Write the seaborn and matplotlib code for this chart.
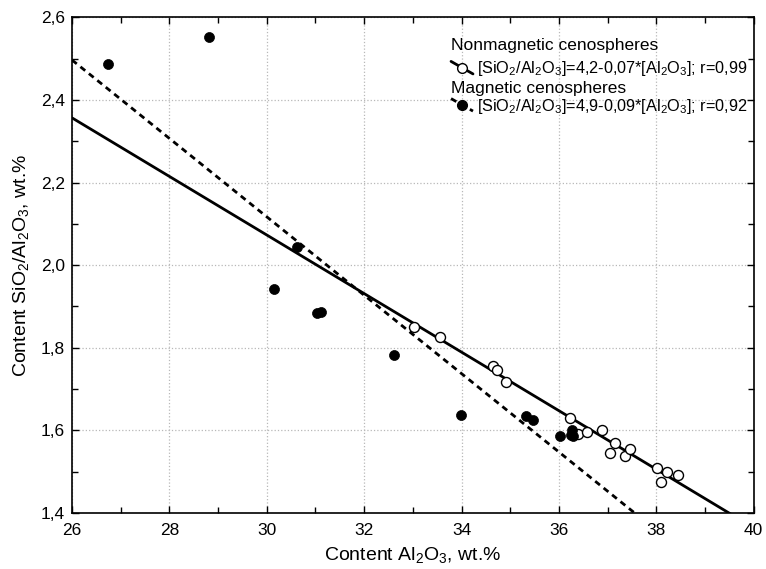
import numpy as np
import pandas as pd
import matplotlib
matplotlib.use("Agg")
import matplotlib.pyplot as plt
import seaborn as sns
from matplotlib.lines import Line2D
from matplotlib.legend_handler import HandlerLine2D

# ---- data ----
nonmag_al2o3 = [33.03, 33.56, 34.65, 34.72, 34.91, 36.23, 36.40, 36.58, 36.89,
                37.05, 37.16, 37.36, 37.46, 38.02, 38.10, 38.22, 38.44]
nonmag_ratio = [1.851, 1.826, 1.755, 1.745, 1.716, 1.631, 1.591, 1.595, 1.602,
                1.546, 1.570, 1.538, 1.554, 1.508, 1.475, 1.500, 1.491]
mag_al2o3 = [26.73, 28.81, 30.15, 30.63, 31.04, 31.11, 32.62, 33.98, 35.32,
             35.46, 36.03, 36.24, 36.27, 36.29]
mag_ratio = [2.486, 2.553, 1.943, 2.045, 1.884, 1.887, 1.782, 1.638, 1.636,
             1.625, 1.586, 1.588, 1.602, 1.587]
# fitted lines (intercept, slope) as drawn
nonmag_fit = (4.200, -0.0709)
mag_fit = (4.964, -0.0949)
nonmag_title = "Nonmagnetic cenospheres"
mag_title = "Magnetic cenospheres"
nonmag_label = r"[SiO$_2$/Al$_2$O$_3$]=4,2-0,07*[Al$_2$O$_3$]; r=0,99"
mag_label = r"[SiO$_2$/Al$_2$O$_3$]=4,9-0,09*[Al$_2$O$_3$]; r=0,92"
xticks = [26, 28, 30, 32, 34, 36, 38, 40]
yticks = [1.4, 1.6, 1.8, 2.0, 2.2, 2.4, 2.6]

sns.set_theme(style="ticks")
plt.rcParams['font.family'] = ['Liberation Sans', 'DejaVu Sans']
plt.rcParams['mathtext.fontset'] = 'custom'
plt.rcParams['mathtext.rm'] = 'Liberation Sans'
plt.rcParams['mathtext.it'] = 'Liberation Sans'
for k in ['text.color', 'axes.labelcolor', 'xtick.color', 'ytick.color']:
    plt.rcParams[k] = 'black'

fig = plt.figure(figsize=(7.66, 5.69), dpi=100)
ax = fig.add_axes([0.094, 0.0984, 0.890, 0.8712])

df_n = pd.DataFrame({"x": nonmag_al2o3, "y": nonmag_ratio})
df_m = pd.DataFrame({"x": mag_al2o3, "y": mag_ratio})

xr = np.array([26.0, 40.0])
fit_n = pd.DataFrame({"x": xr, "y": nonmag_fit[0] + nonmag_fit[1] * xr})
fit_m = pd.DataFrame({"x": xr, "y": mag_fit[0] + mag_fit[1] * xr})

sns.lineplot(data=fit_n, x="x", y="y", ax=ax, color="black", lw=2.0, zorder=2)
sns.lineplot(data=fit_m, x="x", y="y", ax=ax, color="black", lw=2.0, zorder=2)
ax.lines[-1].set_dashes((2.2, 1.7))

sns.scatterplot(data=df_n, x="x", y="y", ax=ax, marker="o", s=52,
                facecolor="white", edgecolor="black", linewidth=1.0, zorder=3)
sns.scatterplot(data=df_m, x="x", y="y", ax=ax, marker="o", s=52,
                color="black", edgecolor="black", linewidth=0.5, zorder=4)

ax.set_xlim(26, 40)
ax.set_ylim(1.4, 2.6)
ax.set_xticks(xticks)
ax.set_yticks(yticks)
ax.set_xticks(np.arange(27, 40, 2), minor=True)
ax.set_yticks([1.5, 1.7, 1.9, 2.1, 2.3, 2.5], minor=True)
ax.set_yticklabels([f"{v:.1f}".replace(".", ",") for v in yticks])
ax.set_xticklabels([str(v) for v in xticks])
ax.tick_params(which="both", direction="in", top=True, right=True,
               color="black", width=1.0, labelsize=12.5)
ax.tick_params(axis="x", pad=7)
ax.tick_params(axis="y", pad=5)
ax.tick_params(which="major", length=5)
ax.tick_params(which="minor", length=4)
ax.grid(True, which="major", color="#b8b8b8", linestyle=":", linewidth=0.9)
for s in ax.spines.values():
    s.set_color("black")
    s.set_linewidth(1.2)
ax.set_axisbelow(True)

ax.set_xlabel(r"Content Al$_2$O$_3$, wt.%", fontsize=14, labelpad=5)
ax.set_ylabel(r"Content SiO$_2$/Al$_2$O$_3$, wt.%", fontsize=14, labelpad=7)


class SlantHandler(HandlerLine2D):
    def create_artists(self, legend, orig_handle, xdescent, ydescent,
                       width, height, fontsize, trans):
        x0, x1 = -xdescent, -xdescent + width
        y0, y1 = -ydescent + height * 1.05, -ydescent - height * 0.05
        line = Line2D([x0, x1], [y0, y1])
        self.update_prop(line, orig_handle, legend)
        line.set_marker("")
        mk = Line2D([(x0 + x1) / 2], [(y0 + y1) / 2])
        self.update_prop(mk, orig_handle, legend)
        mk.set_linestyle("")
        for a in (line, mk):
            a.set_transform(trans)
        return [line, mk]


h_n = Line2D([], [], color="black", lw=2.0, marker="o", markersize=7,
             markerfacecolor="white", markeredgecolor="black", markeredgewidth=1.0)
h_m = Line2D([], [], color="black", lw=2.0, ls=(0, (2.2, 1.7)), marker="o",
             markersize=7, markerfacecolor="black", markeredgecolor="black")

common = dict(frameon=False, fontsize=11.7, handlelength=1.35, handletextpad=0.25,
              borderaxespad=0.0, borderpad=0.0, loc="center left",
              handler_map={Line2D: SlantHandler()})
leg1 = ax.legend([h_n], [nonmag_label], bbox_to_anchor=(0.556, 0.896), **common)
ax.add_artist(leg1)
leg2 = ax.legend([h_m], [mag_label], bbox_to_anchor=(0.556, 0.821), **common)

ax.text(0.556, 0.944, nonmag_title, transform=ax.transAxes,
        fontsize=12.5, ha="left", va="center")
ax.text(0.556, 0.857, mag_title, transform=ax.transAxes,
        fontsize=12.5, ha="left", va="center")

fig.savefig("out.png", dpi=100)
